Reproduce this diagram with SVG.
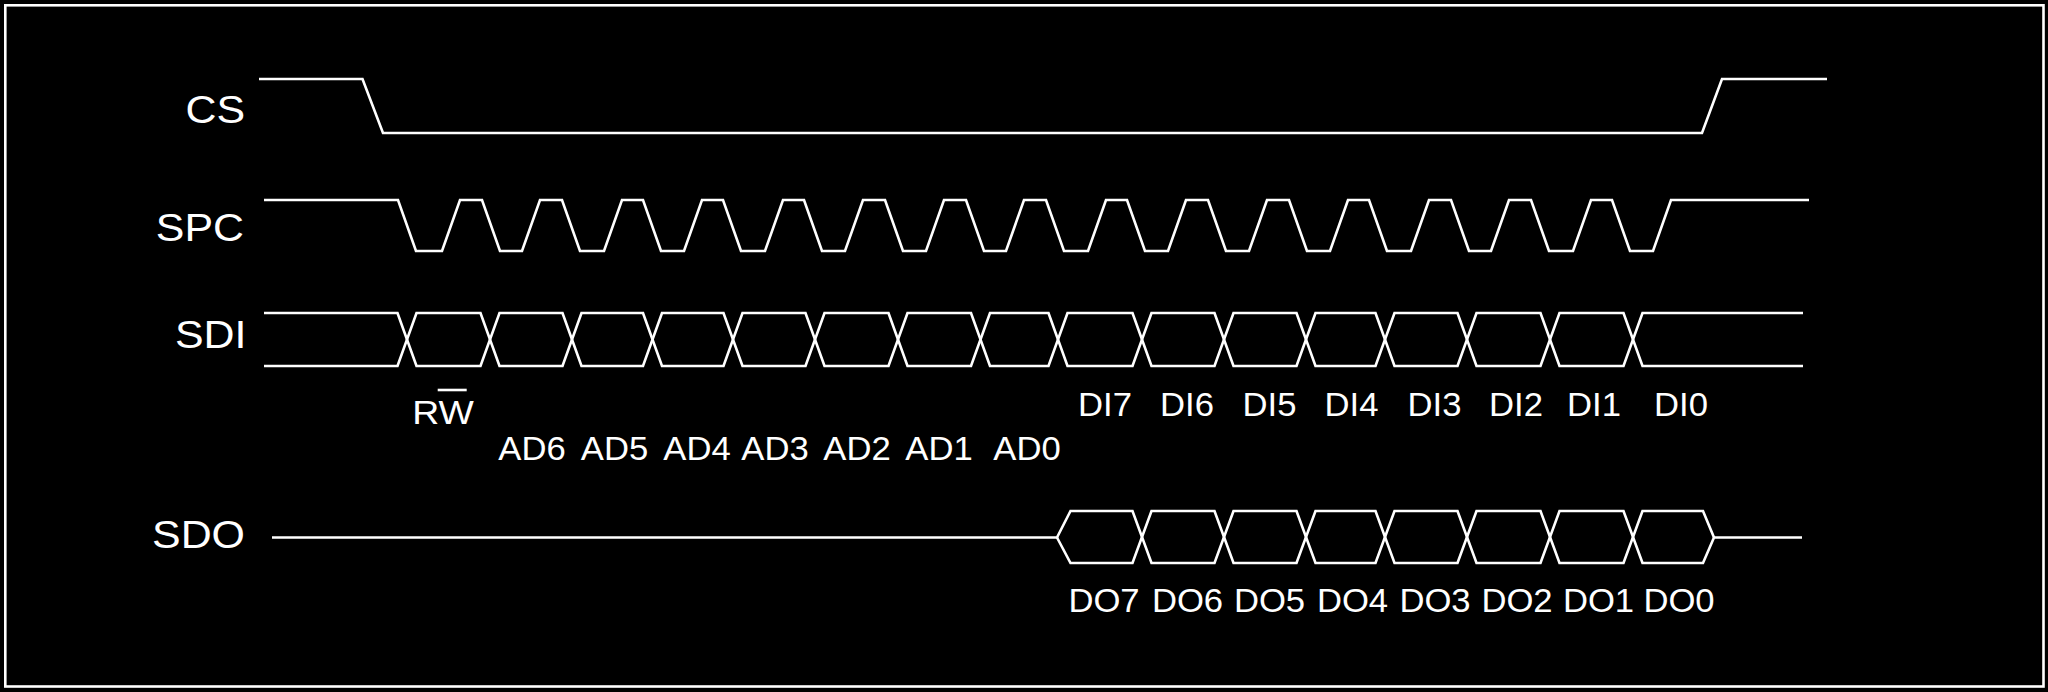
<svg xmlns="http://www.w3.org/2000/svg" width="2048" height="692" viewBox="0 0 2048 692">
<style>
.sig{fill:none;stroke:#fff;stroke-width:2.6;stroke-linejoin:miter;stroke-linecap:butt}
.name{font-family:"Liberation Sans",Arial,sans-serif;font-size:39px;fill:#fff;text-anchor:end}
.lbl{font-family:"Liberation Sans",Arial,sans-serif;font-size:33px;fill:#fff;text-anchor:middle}
</style>
<rect x="0" y="0" width="2048" height="692" fill="#000"/>
<rect id="frame" x="5.3" y="5.3" width="2038.2" height="681.2" fill="none" stroke="#fff" stroke-width="2.6"/>
<g id="CS">
<text class="name" transform="matrix(1.1,0,0,1,245,122.5)">CS</text>
</g>
<g id="SPC">
<text class="name" transform="matrix(1.1,0,0,1,244,241)">SPC</text>
</g>
<g id="SDI">
<text class="name" transform="matrix(1.1,0,0,1,246.5,348)">SDI</text>
<text class="lbl" transform="matrix(1.1,0,0,1,443,424)" style="font-size:34px">RW</text>
<line x1="437.7" y1="390" x2="466.7" y2="390" stroke="#fff" stroke-width="2.6"/>
<text class="lbl" transform="matrix(1.05,0,0,1,532,460)">AD6</text>
<text class="lbl" transform="matrix(1.05,0,0,1,614.5,460)">AD5</text>
<text class="lbl" transform="matrix(1.05,0,0,1,697,460)">AD4</text>
<text class="lbl" transform="matrix(1.05,0,0,1,775,460)">AD3</text>
<text class="lbl" transform="matrix(1.05,0,0,1,857,460)">AD2</text>
<text class="lbl" transform="matrix(1.05,0,0,1,939,460)">AD1</text>
<text class="lbl" transform="matrix(1.05,0,0,1,1027,460)">AD0</text>
<text class="lbl" transform="matrix(1.05,0,0,1,1105,416)">DI7</text>
<text class="lbl" transform="matrix(1.05,0,0,1,1187,416)">DI6</text>
<text class="lbl" transform="matrix(1.05,0,0,1,1269.5,416)">DI5</text>
<text class="lbl" transform="matrix(1.05,0,0,1,1351.5,416)">DI4</text>
<text class="lbl" transform="matrix(1.05,0,0,1,1434.5,416)">DI3</text>
<text class="lbl" transform="matrix(1.05,0,0,1,1516,416)">DI2</text>
<text class="lbl" transform="matrix(1.05,0,0,1,1594,416)">DI1</text>
<text class="lbl" transform="matrix(1.05,0,0,1,1681,416)">DI0</text>
</g>
<g id="SDO">
<text class="name" transform="matrix(1.1,0,0,1,245,547.5)">SDO</text>
<text class="lbl" transform="matrix(1.05,0,0,1,1104,612)">DO7</text>
<text class="lbl" transform="matrix(1.05,0,0,1,1187.5,612)">DO6</text>
<text class="lbl" transform="matrix(1.05,0,0,1,1269.5,612)">DO5</text>
<text class="lbl" transform="matrix(1.05,0,0,1,1352.5,612)">DO4</text>
<text class="lbl" transform="matrix(1.05,0,0,1,1435,612)">DO3</text>
<text class="lbl" transform="matrix(1.05,0,0,1,1517,612)">DO2</text>
<text class="lbl" transform="matrix(1.05,0,0,1,1598.5,612)">DO1</text>
<text class="lbl" transform="matrix(1.05,0,0,1,1679,612)">DO0</text>
</g>
<g id="waveforms">
<path class="sig" d="M259,79 H362.5 L383,133 H1702 L1722,79 H1827"/>
<path class="sig" d="M264,200 H398 L416,251 H442 L460,200 H482 L500,251 H522 L540,200 H562 L580,251 H604 L622,200 H643 L661,251 H684 L702,200 H723 L741,251 H765 L783,200 H804 L822,251 H845 L863,200 H885 L903,251 H926 L944,200 H966 L984,251 H1006 L1024,200 H1046 L1064,251 H1088 L1106,200 H1127 L1145,251 H1168 L1186,200 H1208 L1226,251 H1249 L1267,200 H1289 L1307,251 H1330 L1348,200 H1369 L1387,251 H1411 L1429,200 H1451 L1469,251 H1491 L1509,200 H1531 L1549,251 H1573 L1591,200 H1612 L1630,251 H1653 L1671,200 H1809"/>
<path class="sig" d="M264,313 H397.5 L416.5,366 H480.5 L499.5,313 H562.5 L581.5,366 H643 L662,313 H723.5 L742.5,366 H805.5 L824.5,313 H888.5 L907.5,366 H971 L990,313 H1048.5 L1067.5,366 H1132.5 L1151.5,313 H1214.5 L1233.5,366 H1296.5 L1315.5,313 H1375.5 L1394.5,366 H1457.5 L1476.5,313 H1540.5 L1559.5,366 H1623.5 L1642.5,313 H1803"/>
<path class="sig" d="M264,366 H397.5 L416.5,313 H480.5 L499.5,366 H562.5 L581.5,313 H643 L662,366 H723.5 L742.5,313 H805.5 L824.5,366 H888.5 L907.5,313 H971 L990,366 H1048.5 L1067.5,313 H1132.5 L1151.5,366 H1214.5 L1233.5,313 H1296.5 L1315.5,366 H1375.5 L1394.5,313 H1457.5 L1476.5,366 H1540.5 L1559.5,313 H1623.5 L1642.5,366 H1803"/>
<path class="sig" d="M272,537.5 H1057 L1070.5,511 H1132.5 L1151.5,563 H1214.5 L1233.5,511 H1296.5 L1315.5,563 H1375.5 L1394.5,511 H1457.5 L1476.5,563 H1540.5 L1559.5,511 H1623.5 L1642.5,563 H1703 L1714,537.5 H1802"/>
<path class="sig" d="M1057,537.5 L1070.5,563 H1132.5 L1151.5,511 H1214.5 L1233.5,563 H1296.5 L1315.5,511 H1375.5 L1394.5,563 H1457.5 L1476.5,511 H1540.5 L1559.5,563 H1623.5 L1642.5,511 H1703 L1714,537.5"/>
</g>
</svg>
